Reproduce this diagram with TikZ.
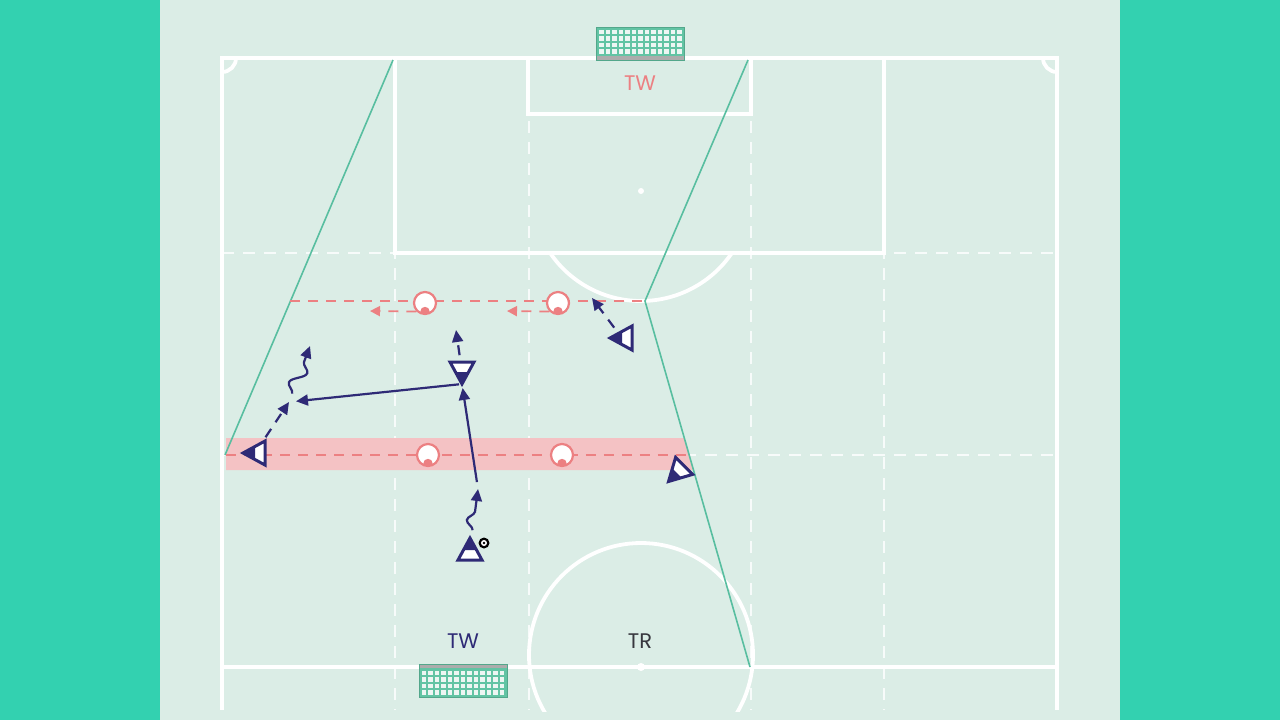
\documentclass[tikz,border=0pt]{standalone}
\usepackage{fontspec}
\setmainfont{Poppins}
\usetikzlibrary{calc,positioning,arrows.meta,decorations.pathmorphing,backgrounds}
\definecolor{bgteal}{RGB}{51,209,176}
\definecolor{pitch}{RGB}{219,237,230}
\definecolor{lineteal}{RGB}{88,190,160}
\definecolor{goalteal}{RGB}{98,196,164}
\definecolor{oppred}{RGB}{236,128,130}
\definecolor{bandred}{RGB}{244,194,196}
\definecolor{navy}{RGB}{46,42,118}
\definecolor{txtgray}{RGB}{55,55,62}

\tikzset{
  player/.pic={
    \fill[white] (0,-12) -- (-12,10) -- (12,10) -- cycle;
    \fill[navy] (0,-12) -- (-6.5,0) -- (6.5,0) -- cycle;
    \draw[navy,line width=0.3mm] (0,-12) -- (-12,10) -- (12,10) -- cycle;
    \coordinate (-c) at (0,0);
    \coordinate (-tip) at (0,-12);
  },
  goal/.pic={
    \fill[goalteal] (-44,-16.5) rectangle (44,16.5);
    \fill[gray!65] (-44,12.5) rectangle (44,16.5);
    \foreach \i in {0,...,12}
      \foreach \j in {0,...,3}
        \fill[pitch!50!white] (-41+\i*6.5,-14+\j*6.5) rectangle ++(4.5,4.5);
    \draw[goalteal!85!black,line width=0.1mm] (-44,-16.5) rectangle (44,16.5);
  }
}

\begin{document}
\begin{tikzpicture}[x=0.1mm,y=-0.1mm,
    pitchline/.style={white,line width=0.38mm},
    zoneline/.style={white,opacity=0.8,line width=0.15mm,dash pattern=on 1.2mm off 0.9mm},
    channel/.style={lineteal,line width=0.16mm},
    oppline/.style={oppred,line width=0.18mm,dash pattern=on 1mm off 0.8mm},
    oppmove/.style={oppline,-{Triangle[length=1mm,width=1mm]}},
    opp/.style={circle,draw=oppred,fill=white,line width=0.22mm,minimum size=2.2mm,inner sep=0pt,
      path picture={\fill[oppred] ($(path picture bounding box.south)+(0,-2.5)$) circle[radius=4.7];}},
    ballpass/.style={navy,line width=0.22mm,-{Triangle[length=1.2mm,width=1.1mm]}},
    runpath/.style={ballpass,dash pattern=on 1mm off 0.8mm},
    dribbling/.style={ballpass,decorate,decoration={snake,amplitude=0.7mm,segment length=3mm,post length=1.3mm}},
    label/.style={font=\fontsize{6pt}{7pt}\selectfont,inner sep=0pt}]
  \fill[bgteal] (0,0) rectangle (1280,720);
  \fill[pitch] (160,0) rectangle (1120,720);
  \useasboundingbox (0,0) rectangle (1280,720);

  \foreach \x in {395,529,751,884}
    \draw[zoneline] (\x,58) -- (\x,710);
  \foreach \y in {253,455}
    \draw[zoneline] (222,\y) -- (1057,\y);

  \draw[pitchline] (222,710) -- (222,58) -- (1057,58) -- (1057,710);
  \draw[pitchline] (222,667) -- (1057,667);
  \draw[pitchline] (236,58) arc[start angle=0,end angle=90,radius=14];
  \draw[pitchline] (1043,58) arc[start angle=180,end angle=90,radius=14];
  \draw[pitchline] (395,58) -- (395,253) -- (884,253) -- (884,58);
  \draw[pitchline] (528,58) -- (528,114) -- (751,114) -- (751,58);
  \fill[white] (641,191) circle[radius=3];
  \draw[pitchline] (641,191) ++(34.3:110) arc[start angle=34.3,end angle=145.7,radius=110];
  \fill[white] (641,667) circle[radius=4];
  \begin{scope}
    \clip (500,520) rectangle (790,711);
    \draw[pitchline] (641,655) circle[radius=112];
  \end{scope}

  \fill[bandred] (226,438) -- (684,438) -- (694,470) -- (226,470) -- cycle;
  \draw[channel] (393,60) -- (225,455);
  \draw[channel] (748,60) -- (645,301) -- (750,667);
  \draw[oppline] (290,301) -- (645,301);
  \draw[oppline] (226,455) -- (688,455);

  \pic at (640,43.5) {goal};
  \pic[rotate=180] at (463,680.5) {goal};

  \node[label,text=oppred] (twtop) at (640,83) {TW};
  \node[label,text=navy] (twbottom) at (463,641) {TW};
  \node[label,text=txtgray] (trainer) at (640,641) {TR};

  \node[opp] (o1) at (425,303) {};
  \node[opp] (o2) at (558,303) {};
  \node[opp] (o3) at (428,455) {};
  \node[opp] (o4) at (562,455) {};
  \coordinate (a1) at (370,311);
  \coordinate (a2) at (507,311);
  \draw[oppmove] (o1.south west) -- (a1);
  \draw[oppmove] (o2.south west) -- (a2);

  \pic[rotate=90] (p1) at (255,453) {player};
  \pic[rotate=90] (p2) at (622,338) {player};
  \pic[rotate=180] (p3) at (462,372) {player};
  \pic (p4) at (470,550) {player};
  \pic[rotate=135] (p5) at (677,473) {player};
  \node[circle,fill=black,minimum size=1.1mm,inner sep=0pt,
    path picture={\fill[white] (path picture bounding box.center) circle[radius=3];
      \fill[black] (path picture bounding box.center) circle[radius=1.4];}] (ball) at (484,543) {};

  \coordinate (d1) at (478,489);
  \coordinate (r1) at (289,402);
  \coordinate (s1) at (310,346);
  \coordinate (t2) at (592,298);
  \coordinate (t3) at (456,330);
  \draw[dribbling] ($(p4-c)!2mm!(d1)$) -- (d1);
  \draw[ballpass,shorten <=0.7mm,shorten >=0.4mm] (d1) -- (p3-tip);
  \draw[ballpass,shorten <=0.3mm,shorten >=0.7mm] (p3-tip) -- (r1);
  \draw[runpath,shorten <=1.9mm] (p1-c) -- (r1);
  \draw[dribbling] ($(r1)!0.9mm!(s1)$) -- (s1);
  \draw[runpath,shorten <=1.7mm] (p3-c) -- (t3);
  \draw[runpath,shorten <=1.3mm] (p2-c) -- (t2);
\end{tikzpicture}
\end{document}
